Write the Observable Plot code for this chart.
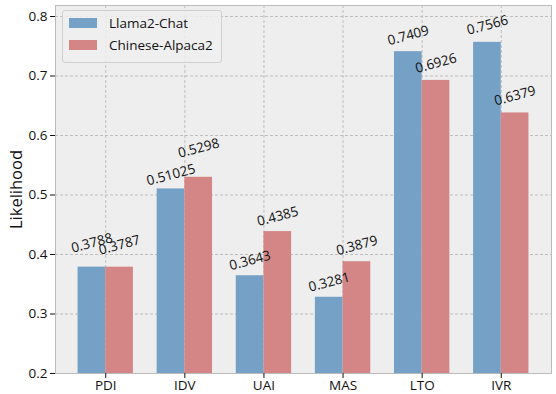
<!DOCTYPE html>
<html><head><meta charset="utf-8">
<script src="https://cdn.jsdelivr.net/npm/d3@7"></script>
<script src="https://cdn.jsdelivr.net/npm/@observablehq/plot@0.6"></script>
<style>
body{margin:0;background:#fff;font-family:"Open Sans",sans-serif;}
#wrap{position:relative;width:556px;height:394px;}
#legend{position:absolute;left:62px;top:10px;width:158px;height:51px;background:rgba(238,238,238,0.85);border:1px solid #d0d0d0;border-radius:3px;font-size:13.5px;color:#111;}
.item{position:absolute;left:6px;display:flex;align-items:center;}
.sw{width:28px;height:10px;margin-right:12px;}
</style></head>
<body><div id="wrap"><div id="chart"></div>
<div id="legend"></div></div>
<script>
const categories = ["PDI","IDV","UAI","MAS","LTO","IVR"];
const seriesNames = ["Llama2-Chat","Chinese-Alpaca2"];
const llama = [0.3788,0.51025,0.3643,0.3281,0.7409,0.7566];
const alpaca = [0.3787,0.5298,0.4385,0.3879,0.6926,0.6379];
const yTicks = [0.2,0.3,0.4,0.5,0.6,0.7,0.8];
const colors = ["#75a1c7","#d48585"];
// gap in px between bar top and label (layout only)
const gapLlama = [14,3,5,5,6,7];
const gapAlpaca = [12,19,5,6,7,7];

const w = 0.35;
const data = [];
categories.forEach((c,i)=>{
  data.push({i, s:0, v:llama[i], x1:i-w, x2:i, gap:gapLlama[i]});
  data.push({i, s:1, v:alpaca[i], x1:i, x2:i+w, gap:gapAlpaca[i]});
});
const idx = categories.map((_,i)=>i);
const fs = 13.5;
const s15 = Math.sin(15*Math.PI/180), c15 = Math.cos(15*Math.PI/180);
const labelMarks = data.map(d=>{
  const txt = String(d.v);
  const tw = txt.length*0.5*fs - 0.25*fs; // approx width
  const th = 11;
  const half = (tw/2)*s15 + (th/2)*c15;
  return Plot.text([d],{x:(d.x1+d.x2)/2, y:d.v, text:()=>txt, rotate:-15, textAnchor:"middle", lineAnchor:"middle", dy:-(d.gap+half), fontSize:fs, fill:"#111"});
});

const chart = Plot.plot({
  width:556, height:394,
  marginLeft:55, marginRight:5, marginTop:5, marginBottom:21,
  style:{background:"white", fontFamily:"Open Sans", fontSize:"13px", color:"#111"},
  x:{type:"linear", domain:[-0.635,5.635]},
  y:{domain:[0.2,0.8185]},
  marks:[
    Plot.frame({fill:"#eeeeee"}),
    Plot.gridY(yTicks,{stroke:"#b2b2b2", strokeOpacity:1, strokeDasharray:"3,2", strokeWidth:0.8}),
    Plot.gridX(idx,{stroke:"#b2b2b2", strokeOpacity:1, strokeDasharray:"3,2", strokeWidth:0.8}),
    Plot.rect(data,{x1:"x1", x2:"x2", y1:()=>0.2, y2:"v", fill:d=>colors[d.s]}),
    ...labelMarks,
    Plot.frame({stroke:"#bcbcbc", strokeWidth:1}),
    Plot.axisX(idx,{tickFormat:i=>categories[i], tickSize:5, tickPadding:2, stroke:"#111", fontSize:13.5, label:null}),
    Plot.axisY(yTicks,{tickFormat:d3.format(".1f"), tickSize:5, tickPadding:3, stroke:"#111", fontSize:13.5, label:null}),
    Plot.text(["Likelihood"],{frameAnchor:"left", textAnchor:"middle", dx:-39, rotate:-90, fontSize:16.5, fill:"#111"})
  ]
});
document.getElementById("chart").append(chart);

const lg = document.getElementById("legend");
seriesNames.forEach((n,k)=>{
  const d = document.createElement("div");
  d.className="item"; d.style.top=(3+k*22)+"px";
  d.innerHTML=`<span class="sw" style="background:${colors[k]}"></span><span>${n}</span>`;
  lg.append(d);
});
</script></body></html>
